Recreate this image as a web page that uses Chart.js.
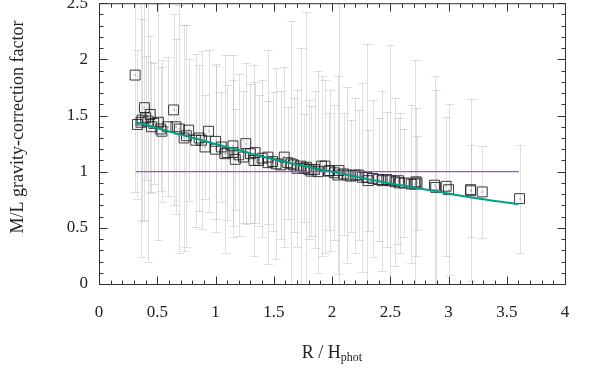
<!DOCTYPE html>
<html>
<head>
<meta charset="utf-8">
<script src="https://cdn.jsdelivr.net/npm/chart.js@4/dist/chart.umd.min.js"></script>
<style>
  html, body { margin: 0; padding: 0; background: #fff; }
  #wrap { position: relative; width: 598px; height: 381px; overflow: hidden; }
  #chart { position: absolute; left: 0; top: -18px; }
</style>
</head>
<body>
<div id="wrap"><canvas id="chart" width="598" height="399"></canvas></div>
<script>
// R / H_phot of each measurement
const rX = [
  0.31, 0.33, 0.36, 0.37, 0.39, 0.40, 0.42, 0.44, 0.45, 0.47,
  0.51, 0.53, 0.54, 0.59, 0.64, 0.66, 0.69, 0.73, 0.75, 0.77,
  0.83, 0.86, 0.88, 0.91, 0.94, 1.00, 1.00, 1.05, 1.08, 1.10,
  1.15, 1.15, 1.17, 1.20, 1.24, 1.26, 1.30, 1.33, 1.34, 1.37,
  1.40, 1.45, 1.45, 1.49, 1.52, 1.56, 1.59, 1.62, 1.65, 1.67,
  1.70, 1.73, 1.76, 1.78, 1.80, 1.82, 1.85, 1.88, 1.91, 1.94,
  1.97, 1.98, 2.02, 2.05, 2.06, 2.10, 2.13, 2.16, 2.20, 2.23,
  2.26, 2.30, 2.31, 2.35, 2.40, 2.43, 2.47, 2.50, 2.54, 2.57,
  2.58, 2.62, 2.68, 2.71, 2.72, 2.73, 2.88, 2.89, 2.98, 3.00,
  3.19, 3.19, 3.29, 3.61
];
// M/L gravity-correction factor
const factor = [
  1.86, 1.42, 1.44, 1.46, 1.57, 1.48, 1.45, 1.51, 1.40, 1.43,
  1.44, 1.38, 1.36, 1.40, 1.55, 1.40, 1.38, 1.30, 1.32, 1.37,
  1.28, 1.30, 1.28, 1.22, 1.36, 1.27, 1.20, 1.22, 1.16, 1.17,
  1.17, 1.23, 1.11, 1.15, 1.13, 1.25, 1.16, 1.10, 1.17, 1.10,
  1.12, 1.13, 1.08, 1.09, 1.07, 1.06, 1.13, 1.08, 1.07, 1.06,
  1.03, 1.05, 1.03, 1.04, 1.02, 1.005, 1.02, 1.00, 1.05, 1.05,
  1.005, 1.01, 0.99, 0.97, 1.01, 0.98, 0.97, 0.96, 0.97, 0.97,
  0.95, 0.95, 0.92, 0.94, 0.93, 0.92, 0.93, 0.92, 0.91, 0.92,
  0.90, 0.90, 0.89, 0.89, 0.91, 0.90, 0.88, 0.86, 0.87, 0.84,
  0.83, 0.84, 0.82, 0.76
];
// symmetric error on the factor
const factorErr = [
  1.04, 0.66, 1.20, 0.90, 1.00, 0.55, 1.25, 0.70, 0.58, 0.54,
  1.05, 0.55, 0.63, 0.62, 0.85, 0.78, 1.10, 1.01, 0.99, 0.63,
  0.77, 0.65, 0.79, 0.46, 0.72, 0.69, 0.74, 0.49, 0.88, 0.60,
  0.65, 0.81, 0.45, 0.72, 0.59, 0.72, 0.62, 0.85, 0.63, 0.58,
  0.70, 0.95, 0.55, 0.62, 0.85, 0.66, 0.80, 0.50, 1.27, 0.60,
  0.70, 1.05, 0.48, 1.38, 0.62, 0.58, 0.70, 0.90, 0.80, 0.77,
  0.52, 0.72, 0.60, 0.88, 1.60, 0.54, 0.78, 0.50, 0.69, 0.58,
  0.84, 1.19, 0.45, 0.70, 0.55, 0.80, 0.60, 1.21, 0.75, 0.56,
  0.62, 0.48, 0.70, 1.10, 0.66, 0.42, 0.97, 0.87, 0.62, 0.76,
  0.41, 0.81, 0.41, 0.48
];
// fitted relation
const fitX = [0.32, 0.7, 1.08, 1.5, 1.94, 2.4, 2.88, 3.2, 3.6];
const fitY = [1.44, 1.33, 1.225, 1.11, 1.012, 0.915, 0.828, 0.77, 0.71];
// reference line at factor = 1
const unityX = [0.315, 3.605];
const unityY = [1, 1];

const xTicks = [0, 0.5, 1, 1.5, 2, 2.5, 3, 3.5, 4];
const yTicks = [0, 0.5, 1, 1.5, 2, 2.5];

const FONT = "'Liberation Serif', 'DejaVu Serif', serif";
const INK = '#222';
const SHIFT = 18; // canvas is pushed up by this much so the top is cropped

const toPoints = (xs, ys) => xs.map((x, i) => ({ x: x, y: ys[i] }));

const errorBars = {
    id: 'errorBars',
    beforeDatasetsDraw(chart) {
        const { ctx, chartArea, scales } = chart;
        const xs = scales.x, ys = scales.y;
        ctx.save();
        ctx.beginPath();
        ctx.rect(chartArea.left, chartArea.top, chartArea.right - chartArea.left, chartArea.bottom - chartArea.top);
        ctx.clip();
        ctx.strokeStyle = 'rgba(175,175,175,0.4)';
        ctx.lineWidth = 1;
        rX.forEach((x, i) => {
            const px = Math.round(xs.getPixelForValue(x)) + 0.5;
            const top = ys.getPixelForValue(factor[i] + factorErr[i]);
            const bot = ys.getPixelForValue(factor[i] - factorErr[i]);
            ctx.beginPath();
            ctx.moveTo(px, top);
            ctx.lineTo(px, bot);
            ctx.moveTo(px - 4.5, Math.round(top) + 0.5);
            ctx.lineTo(px + 4.5, Math.round(top) + 0.5);
            ctx.moveTo(px - 4.5, Math.round(bot) + 0.5);
            ctx.lineTo(px + 4.5, Math.round(bot) + 0.5);
            ctx.stroke();
        });
        ctx.restore();
    },
    afterDatasetsDraw(chart) {
        // small dot in the middle of each square
        const { ctx, scales } = chart;
        ctx.save();
        ctx.fillStyle = '#555';
        rX.forEach((x, i) => {
            const px = scales.x.getPixelForValue(x);
            const py = scales.y.getPixelForValue(factor[i]);
            ctx.fillRect(Math.round(px) - 0.5, Math.round(py) - 0.5, 1, 1);
        });
        ctx.restore();
    }
};

const frame = {
    id: 'frame',
    afterDraw(chart) {
        const { ctx, chartArea: a, scales } = chart;
        const L = a.left + 0.5, R = a.right + 0.5, T = a.top + 0.5, B = a.bottom + 0.5;
        ctx.save();
        ctx.strokeStyle = '#333';
        ctx.lineWidth = 1;
        ctx.strokeRect(L, T, R - L, B - T);
        ctx.beginPath();
        for (let i = 0; i <= 40; i++) {
            const v = i / 10;
            const len = i % 5 === 0 ? 8 : 4;
            const px = Math.round(scales.x.getPixelForValue(v)) + 0.5;
            ctx.moveTo(px, B); ctx.lineTo(px, B - len);
            ctx.moveTo(px, T); ctx.lineTo(px, T + len);
        }
        for (let i = 0; i <= 25; i++) {
            const v = i / 10;
            const len = i % 5 === 0 ? 8 : 4;
            const py = Math.round(scales.y.getPixelForValue(v)) + 0.5;
            ctx.moveTo(L, py); ctx.lineTo(L + len, py);
            ctx.moveTo(R, py); ctx.lineTo(R - len, py);
        }
        ctx.stroke();

        // axis titles
        ctx.fillStyle = INK;
        ctx.textBaseline = 'middle';
        const main = 'R / H';
        ctx.font = '18px ' + FONT;
        const w1 = ctx.measureText(main).width;
        ctx.font = '12px ' + FONT;
        const w2 = ctx.measureText('phot').width;
        const cx = (a.left + a.right) / 2 - (w1 + w2) / 2;
        const cy = 353 + SHIFT;
        ctx.textAlign = 'left';
        ctx.font = '18px ' + FONT;
        ctx.fillText(main, cx, cy);
        ctx.font = '12px ' + FONT;
        ctx.fillText('phot', cx + w1, cy + 5);

        ctx.translate(18, 127 + SHIFT);
        ctx.rotate(-Math.PI / 2);
        ctx.textAlign = 'center';
        ctx.font = '18px ' + FONT;
        ctx.fillText('M/L gravity-correction factor', 0, 0);
        ctx.restore();
    }
};

const tickText = (v) => String(v);

const ctx = document.getElementById('chart');
new Chart(ctx, {
    type: 'scatter',
    data: {
        datasets: [
            {
                label: 'data',
                data: toPoints(rX, factor),
                pointStyle: 'rect',
                pointRadius: 7,
                pointHoverRadius: 7,
                borderColor: 'rgba(25,25,25,0.85)',
                backgroundColor: 'rgba(0,0,0,0)',
                borderWidth: 1,
                order: 3,
            },
            {
                label: 'unity',
                data: toPoints(unityX, unityY),
                showLine: true,
                pointRadius: 0,
                borderColor: '#a050e0',
                borderWidth: 1.3,
                order: 2,
            },
            {
                label: 'fit',
                data: toPoints(fitX, fitY),
                showLine: true,
                pointRadius: 0,
                borderColor: '#00a084',
                borderWidth: 2,
                tension: 0.4,
                order: 1,
            },
        ],
    },
    options: {
        responsive: false,
        animation: false,
        devicePixelRatio: 1,
        layout: { padding: { top: 4, right: 33, left: 0, bottom: 0 } },
        plugins: { legend: { display: false }, tooltip: { enabled: false } },
        scales: {
            x: {
                type: 'linear',
                min: 0, max: 4,
                afterBuildTicks: (s) => { s.ticks = xTicks.map(v => ({ value: v })); },
                afterFit: (s) => { s.height = 97; },
                grid: { display: false, drawTicks: false },
                border: { display: false },
                ticks: { padding: 18, color: INK, font: { family: FONT, size: 17 }, callback: tickText },
            },
            y: {
                type: 'linear',
                min: 0, max: 2.5,
                afterBuildTicks: (s) => { s.ticks = yTicks.map(v => ({ value: v })); },
                afterFit: (s) => { s.width = 99; },
                grid: { display: false, drawTicks: false },
                border: { display: false },
                ticks: { padding: 11, color: INK, font: { family: FONT, size: 17 }, callback: tickText },
            },
        },
    },
    plugins: [errorBars, frame],
});
</script>
</body>
</html>
